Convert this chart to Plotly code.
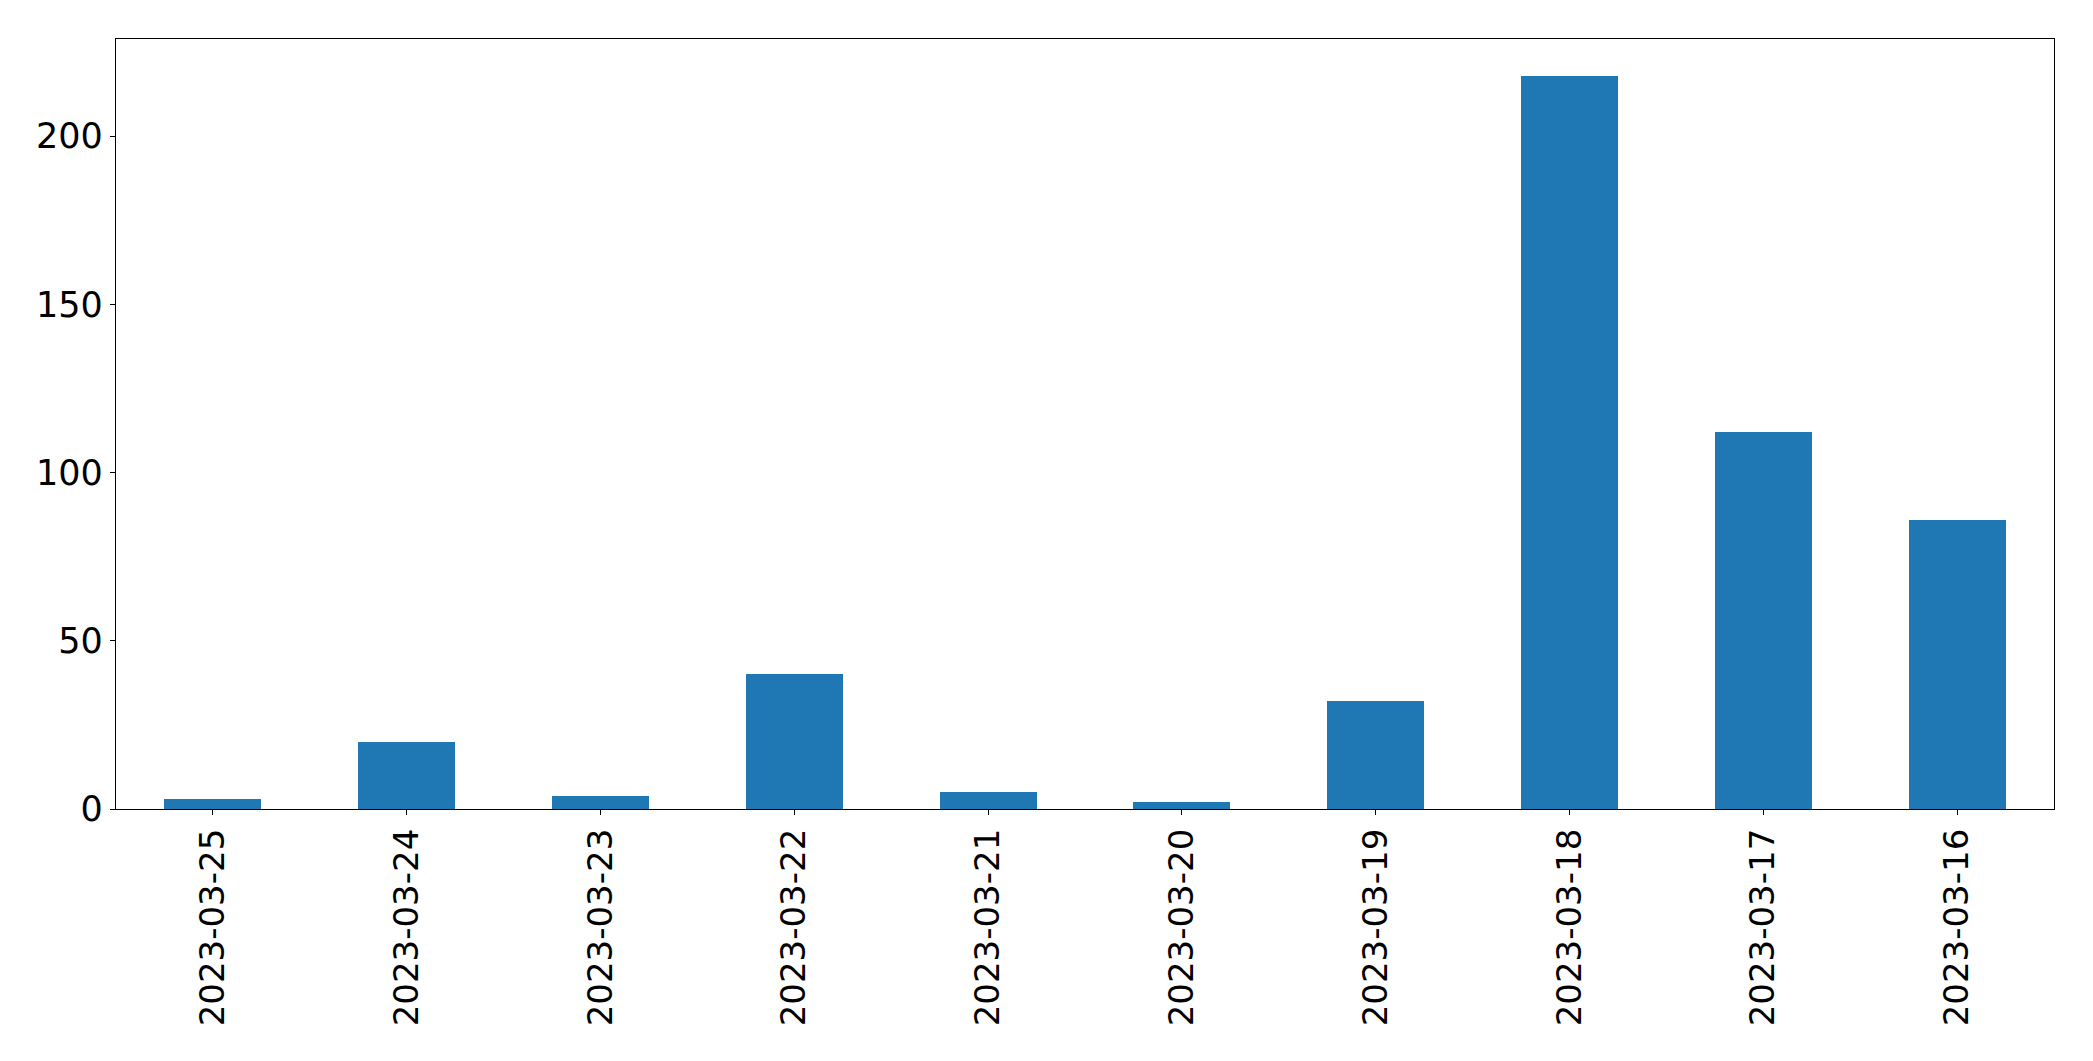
import plotly.graph_objects as go

dates = ["2023-03-25", "2023-03-24", "2023-03-23", "2023-03-22", "2023-03-21",
         "2023-03-20", "2023-03-19", "2023-03-18", "2023-03-17", "2023-03-16"]
counts = [3, 20, 4, 40, 5, 2, 32, 218, 112, 86]
y_ticks = [0, 50, 100, 150, 200]

fig = go.Figure(go.Bar(x=dates, y=counts, width=0.5, marker_color="#1f77b4",
                       marker_line_width=0))

font = dict(family="DejaVu Sans", size=34, color="black")
fig.update_layout(
    width=2093, height=1061,
    margin=dict(l=116, r=39, t=39, b=252),
    plot_bgcolor="white", paper_bgcolor="white",
    font=font, showlegend=False, bargap=0,
)
fig.update_xaxes(type="category", range=[-0.5, len(dates) - 0.5], tickangle=-90,
                 showline=True, linecolor="black", linewidth=1.3, mirror=True,
                 ticks="outside", ticklen=5, tickwidth=1.3, tickcolor="black",
                 showgrid=False, tickfont=font)
fig.update_yaxes(range=[0, max(counts) * 1.05], tickvals=y_ticks,
                 showline=True, linecolor="black", linewidth=1.3, mirror=True,
                 ticks="outside", ticklen=5, tickwidth=1.3, tickcolor="black",
                 showgrid=False, zeroline=False, tickfont=dict(family="DejaVu Sans", size=35, color="black"))

fig.write_html("out.html")
